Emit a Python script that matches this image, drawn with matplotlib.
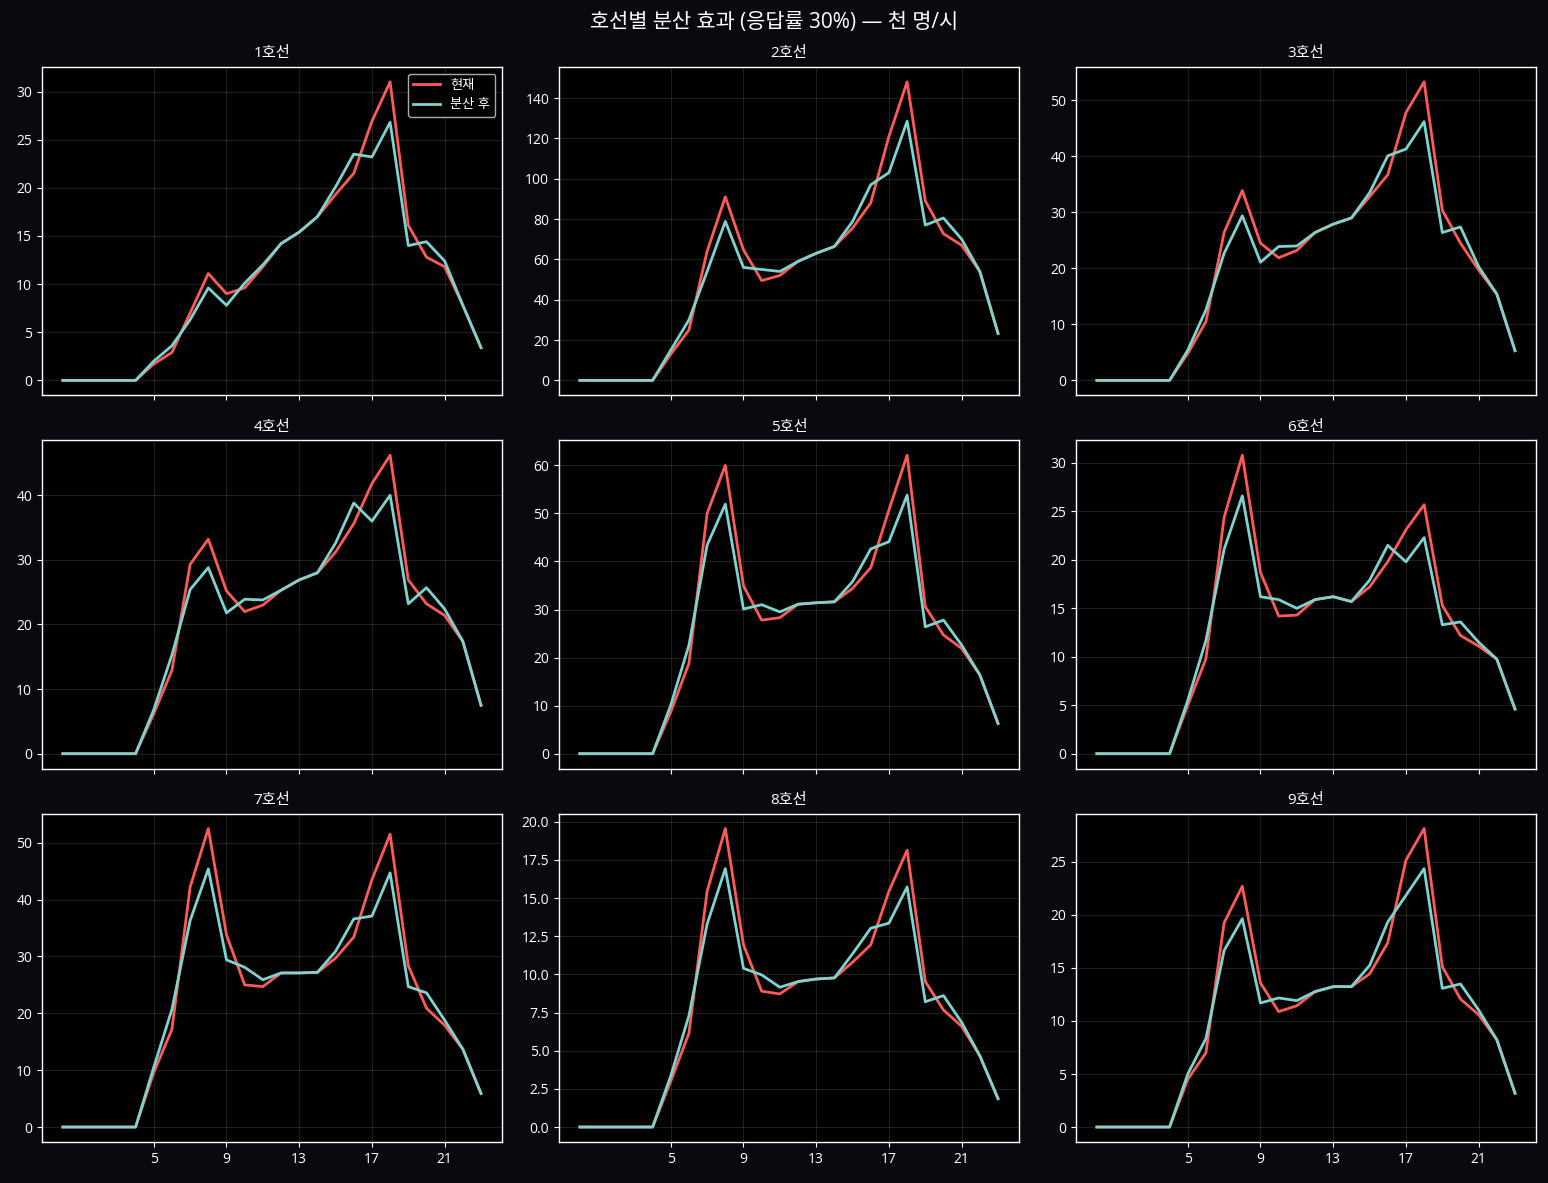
import matplotlib
matplotlib.use("Agg")
import matplotlib.pyplot as plt
import numpy as np

plt.rcParams['font.family'] = ['Open Sans', 'Noto Sans CJK KR', 'DejaVu Sans']

hours = list(range(24))
lines = ["1호선", "2호선", "3호선", "4호선", "5호선", "6호선", "7호선", "8호선", "9호선"]

cur_1 = [0, 0, 0, 0, 0, 1.7, 2.9, 7.0, 11.1, 9.0, 9.6, 11.8, 14.2, 15.4, 17.0, 19.3, 21.5, 26.9, 31.0, 16.1, 12.8, 11.8, 7.8, 3.4]
aft_1 = [0, 0, 0, 0, 0, 2.0, 3.6, 6.3, 9.6, 7.8, 10.1, 12.0, 14.2, 15.4, 17.0, 20.1, 23.5, 23.2, 26.8, 14.0, 14.4, 12.4, 7.8, 3.4]
cur_2 = [0, 0, 0, 0, 0, 13, 25, 64, 91, 64.7, 49.5, 52, 59, 63, 66.4, 75.5, 88, 121, 148, 89, 72.7, 67, 54, 23.3]
aft_2 = [0, 0, 0, 0, 0, 15, 30, 54, 78.8, 56, 55, 54, 59, 63, 66.4, 78.8, 97, 103, 128.5, 77, 80.5, 70, 54, 23.3]
cur_3 = [0, 0, 0, 0, 0, 4.8, 10.5, 26.4, 33.9, 24.5, 21.9, 23.2, 26.4, 27.9, 29.0, 32.8, 36.7, 47.8, 53.3, 30.4, 24.5, 19.7, 15.4, 5.3]
aft_3 = [0, 0, 0, 0, 0, 5.4, 12.6, 22.7, 29.4, 21.1, 23.9, 24.0, 26.4, 27.9, 29.0, 33.5, 40.1, 41.3, 46.2, 26.4, 27.4, 20.3, 15.4, 5.3]
cur_4 = [0, 0, 0, 0, 0, 6.2, 12.9, 29.3, 33.2, 25.2, 22.0, 23.0, 25.3, 26.9, 28.0, 31.2, 35.6, 41.8, 46.2, 26.9, 23.2, 21.4, 17.4, 7.5]
aft_4 = [0, 0, 0, 0, 0, 6.8, 15.3, 25.4, 28.8, 21.8, 23.9, 23.8, 25.3, 26.9, 28.0, 32.6, 38.8, 36.0, 40.0, 23.2, 25.7, 22.4, 17.4, 7.5]
cur_5 = [0, 0, 0, 0, 0, 8.7, 18.8, 50.0, 60.0, 34.9, 27.8, 28.3, 31.1, 31.4, 31.6, 34.4, 38.7, 50.7, 62.1, 30.6, 24.7, 21.9, 16.4, 6.3]
aft_5 = [0, 0, 0, 0, 0, 10.1, 22.6, 43.4, 51.9, 30.1, 31.0, 29.5, 31.1, 31.4, 31.6, 35.8, 42.6, 44.1, 53.8, 26.4, 27.8, 22.6, 16.4, 6.3]
cur_6 = [0, 0, 0, 0, 0, 5.0, 9.8, 24.4, 30.8, 18.7, 14.2, 14.3, 15.9, 16.2, 15.7, 17.2, 19.8, 23.1, 25.7, 15.3, 12.2, 11.1, 9.75, 4.6]
aft_6 = [0, 0, 0, 0, 0, 5.5, 11.7, 21.1, 26.6, 16.2, 15.9, 15.0, 15.9, 16.2, 15.7, 17.9, 21.5, 19.8, 22.3, 13.3, 13.6, 11.5, 9.75, 4.6]
cur_7 = [0, 0, 0, 0, 0, 9.6, 17.2, 42.2, 52.5, 33.8, 25.0, 24.7, 27.1, 27.1, 27.2, 29.7, 33.4, 43.5, 51.5, 28.4, 20.9, 17.9, 13.7, 5.9]
aft_7 = [0, 0, 0, 0, 0, 10.5, 20.7, 36.3, 45.4, 29.4, 28.1, 25.9, 27.1, 27.1, 27.2, 30.9, 36.6, 37.1, 44.7, 24.7, 23.6, 18.8, 13.7, 5.9]
cur_8 = [0, 0, 0, 0, 0, 3.0, 6.15, 15.45, 19.56, 11.94, 8.9, 8.72, 9.53, 9.7, 9.77, 10.8, 11.94, 15.45, 18.14, 9.53, 7.67, 6.6, 4.67, 1.86]
aft_8 = [0, 0, 0, 0, 0, 3.35, 7.3, 13.3, 16.93, 10.4, 9.97, 9.16, 9.53, 9.7, 9.77, 11.35, 13.03, 13.36, 15.73, 8.21, 8.61, 6.86, 4.67, 1.86]
cur_9 = [0, 0, 0, 0, 0, 4.5, 7.0, 19.26, 22.7, 13.59, 10.88, 11.44, 12.77, 13.24, 13.24, 14.44, 17.37, 25.16, 28.15, 15.13, 12.07, 10.59, 8.23, 3.18]
aft_9 = [0, 0, 0, 0, 0, 5.0, 8.35, 16.65, 19.64, 11.7, 12.17, 11.92, 12.77, 13.24, 13.24, 15.23, 19.33, 21.85, 24.37, 13.08, 13.49, 11.03, 8.23, 3.18]

current = [cur_1, cur_2, cur_3, cur_4, cur_5, cur_6, cur_7, cur_8, cur_9]
after = [aft_1, aft_2, aft_3, aft_4, aft_5, aft_6, aft_7, aft_8, aft_9]
xticks = [5, 9, 13, 17, 21]
title = "호선별 분산 효과 (응답률 30%) — 천 명/시"
label_cur = "현재"
label_aft = "분산 후"

FIG_BG = "#080a0f"
RED = "#ff5a55"
CYAN = "#7dd3cf"

fig, axes = plt.subplots(3, 3, figsize=(15.48, 11.83), dpi=100, sharex=True)
fig.patch.set_facecolor(FIG_BG)
fig.subplots_adjust(left=0.0271, right=0.9922, top=0.9434, bottom=0.0347,
                    wspace=0.124, hspace=0.137)

for i, ax in enumerate(axes.flat):
    ax.set_facecolor("black")
    ax.plot(hours, current[i], color=RED, lw=2, label=label_cur)
    ax.plot(hours, after[i], color=CYAN, lw=2, label=label_aft)
    ax.set_title(lines[i], color="white", fontsize=11, pad=7)
    ax.grid(True, color="white", alpha=0.12, lw=0.8)
    for s in ax.spines.values():
        s.set_color("white")
        s.set_linewidth(1.0)
    ax.tick_params(colors="white", labelcolor="white", labelsize=10)
    ax.set_xticks(xticks)
    if i == 0:
        ax.legend(loc="upper right", fontsize=9.5, facecolor="black",
                  edgecolor="#aaaaaa", labelcolor="white", framealpha=1.0)

fig.suptitle(title, color="white", fontsize=15, y=0.99)
fig.savefig("out.png", dpi=100, facecolor=FIG_BG)
